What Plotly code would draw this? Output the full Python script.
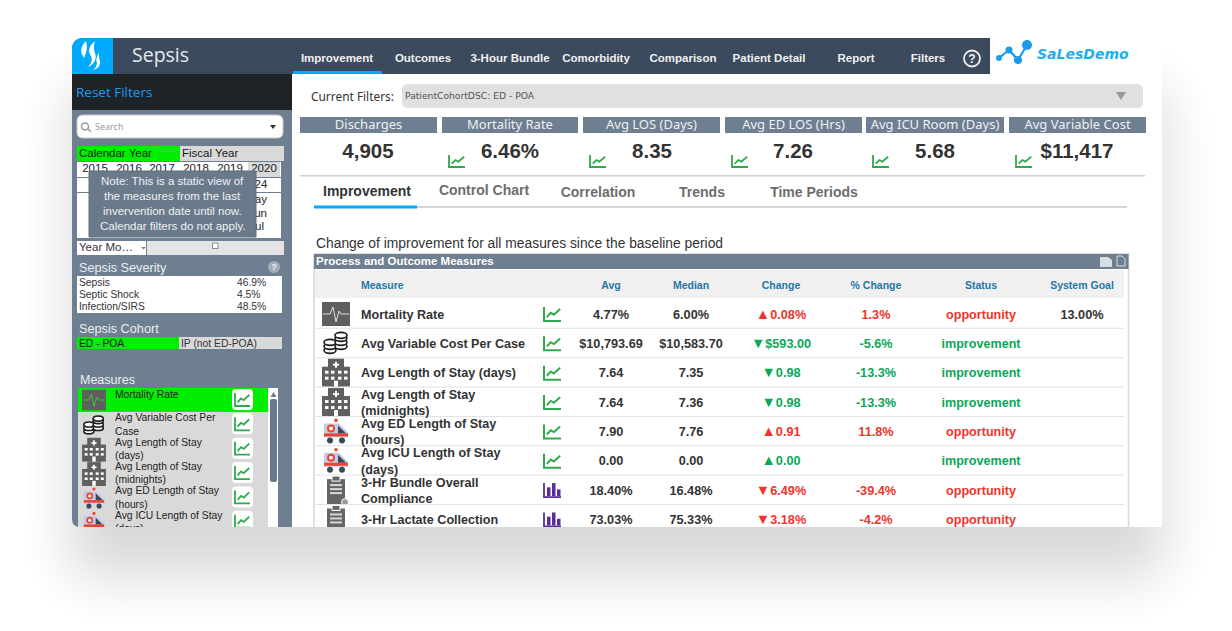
import plotly.graph_objects as go

# chart contents
nav_tabs = ["Improvement", "Outcomes", "3-Hour Bundle", "Comorbidity", "Comparison", "Patient Detail", "Report", "Filters"]
sub_tabs = ["Improvement", "Control Chart", "Correlation", "Trends", "Time Periods"]
kpi_labels = ["Discharges", "Mortality Rate", "Avg LOS (Days)", "Avg ED LOS (Hrs)", "Avg ICU Room (Days)", "Avg Variable Cost"]
kpi_values = ["4,905", "6.46%", "8.35", "7.26", "5.68", "$11,417"]
years = ["2015", "2016", "2017", "2018", "2019", "2020"]
note_lines = ["Note: This is a static view of", "the measures from the last", "invervention date until now.", "Calendar filters do not apply."]
severity_labels = ["Sepsis", "Septic Shock", "Infection/SIRS"]
severity_pct = ["46.9%", "4.5%", "48.5%"]
side_measures = ["Mortality Rate", "Avg Variable Cost Per<br>Case", "Avg Length of Stay<br>(days)", "Avg Length of Stay<br>(midnights)",
                 "Avg ED Length of Stay<br>(hours)", "Avg ICU Length of Stay<br>(days)"]
table_headers = ["Measure", "Avg", "Median", "Change", "% Change", "Status", "System Goal"]
measures = ["Mortality Rate", "Avg Variable Cost Per Case", "Avg Length of Stay (days)", "Avg Length of Stay<br>(midnights)",
            "Avg ED Length of Stay<br>(hours)", "Avg ICU Length of Stay<br>(days)", "3-Hr Bundle Overall<br>Compliance", "3-Hr Lactate Collection"]
avg_vals = ["4.77%", "$10,793.69", "7.64", "7.64", "7.90", "0.00", "18.40%", "73.03%"]
median_vals = ["6.00%", "$10,583.70", "7.35", "7.36", "7.76", "0.00", "16.48%", "75.33%"]
change_vals = ["▲0.08%", "▼$593.00", "▼0.98", "▼0.98", "▲0.91", "▲0.00", "▼6.49%", "▼3.18%"]
pct_vals = ["1.3%", "-5.6%", "-13.3%", "-13.3%", "11.8%", "", "-39.4%", "-4.2%"]
status_vals = ["opportunity", "improvement", "improvement", "improvement", "opportunity", "improvement", "opportunity", "opportunity"]
goal_vals = ["13.00%", "", "", "", "", "", "", ""]
row_icons = ["pulse", "coins", "hospital", "hospital", "ambulance", "ambulance", "clipboard", "clipboard"]
row_charts = ["line", "line", "line", "line", "line", "line", "bar", "bar"]

DARK = "#3b4a5c"
SLATE = "#6e7f91"
BLUE = "#00aaff"
GREEN = "#00ee00"
LGREY = "#d9d9d9"
RED = "#f0342c"
OK = "#0aa858"
TREND = "#2fa84f"
CARD_B = 527
PH = 631

shapes = []
texts = []
notes = []


def rect(x0, y0, x1, y1, fill, line=None, width=1, layer="below"):
    shapes.append(dict(type="rect", x0=x0, y0=y0, x1=x1, y1=y1, fillcolor=fill, layer=layer,
                       line=dict(color=line, width=width) if line else dict(width=0)))


def path(d, fill=None, line=None, width=1):
    shapes.append(dict(type="path", path=d, fillcolor=fill or "rgba(0,0,0,0)", layer="below",
                       line=dict(color=line, width=width) if line else dict(width=0)))


def circle(cx, cy, r, fill=None, line=None, width=1):
    shapes.append(dict(type="circle", x0=cx - r, y0=cy - r, x1=cx + r, y1=cy + r, fillcolor=fill or "rgba(0,0,0,0)", layer="below",
                       line=dict(color=line, width=width) if line else dict(width=0)))


def rrect(x0, y0, x1, y1, r):
    return (f"M{x0+r},{y0} L{x1-r},{y0} Q{x1},{y0} {x1},{y0+r} L{x1},{y1-r} Q{x1},{y1} {x1-r},{y1} "
            f"L{x0+r},{y1} Q{x0},{y1} {x0},{y1-r} L{x0},{y0+r} Q{x0},{y0} {x0+r},{y0} Z")


def put(x, y, text, size=12, color="#333333", family="Liberation Sans", bold=False, anchor="center"):
    texts.append(go.Scatter(x=[x], y=[y + 1.5], mode="text", text=["<b>" + text + "</b>" if bold else text],
                            textposition="middle " + anchor,
                            textfont=dict(size=size, color=color, family=family),
                            showlegend=False, hoverinfo="skip", cliponaxis=True))


def trend(x, y, w, h, color=TREND, width=1.8):
    path(f"M{x},{y} L{x},{y+h} L{x+w},{y+h}", line=color, width=width)
    path(f"M{x+w*.17},{y+h*.72} L{x+w*.4},{y+h*.42} L{x+w*.58},{y+h*.55} L{x+w*.95},{y+h*.15}", line=color, width=width)


def bars_icon(x, y, w, h, color="#5b2d9b"):
    path(f"M{x},{y} L{x},{y+h} L{x+w},{y+h}", line=color, width=1.8)
    for k, top in enumerate([.3, 0, .45]):
        rect(x + 3 + k * 5, y + h * top, x + 6.5 + k * 5, y + h - 1, color)


def icon(kind, cx, cy, s=1.0, pulse_line="#e2e2e2"):
    if kind == "pulse":
        rect(cx - 14*s, cy - 12*s, cx + 14*s, cy + 12*s, "#5f5f5f")
        path(f"M{cx-13*s},{cy} L{cx-6*s},{cy} L{cx-3*s},{cy-7*s} L{cx},{cy+8*s} L{cx+3*s},{cy-3*s} L{cx+5*s},{cy} L{cx+13*s},{cy}",
             line=pulse_line, width=1)
    elif kind == "coins":
        for dx, dy in [(-6, 7), (-6, 3), (-6, -1), (5, 3), (5, -1), (5, -5), (5, -8)]:
            shapes.append(dict(type="circle", x0=cx + (dx - 6)*s, y0=cy + (dy - 3)*s, x1=cx + (dx + 6)*s, y1=cy + (dy + 3)*s,
                               fillcolor="#ffffff", layer="below", line=dict(color="#1c1c1c", width=1.6)))
    elif kind == "hospital":
        rect(cx - 14*s, cy - 6*s, cx + 14*s, cy + 14*s, "#5f5f5f")
        rect(cx - 8*s, cy - 14*s, cx + 8*s, cy + 14*s, "#5f5f5f")
        rect(cx - 1*s, cy - 11*s, cx + 1*s, cy - 5*s, "#ffffff")
        rect(cx - 3*s, cy - 9*s, cx + 3*s, cy - 7*s, "#ffffff")
        for wx in [-11, -5, 2, 8]:
            for wy in [-2, 4]:
                rect(cx + wx*s, cy + wy*s, cx + (wx + 3.5)*s, cy + (wy + 3)*s, "#ffffff")
        rect(cx - 2*s, cy + 8*s, cx + 2*s, cy + 14*s, "#ffffff")
    elif kind == "ambulance":
        path(f"M{cx-12*s},{cy-8*s} L{cx+3*s},{cy-8*s} L{cx+12*s},{cy+1*s} L{cx+12*s},{cy+6*s} L{cx-12*s},{cy+6*s} Z", fill="#c3cbe6")
        path(f"M{cx+2*s},{cy-6*s} L{cx+10*s},{cy+2*s} L{cx+2*s},{cy+2*s} Z", fill="#37495a")
        rect(cx - 12*s, cy + 2*s, cx + 12*s, cy + 5*s, "#f0402f")
        circle(cx - 5*s, cy - 3*s, 4*s, fill="#f0402f")
        circle(cx - 5*s, cy - 3*s, 2*s, fill="#ffffff")
        circle(cx + 0*s, cy - 11*s, 1.8*s, fill="#f0402f")
        circle(cx - 6*s, cy + 9*s, 3*s, fill="#37495a")
        circle(cx + 6*s, cy + 9*s, 3*s, fill="#37495a")
    elif kind == "clipboard":
        rect(cx - 9*s, cy - 11*s, cx + 9*s, cy + 14*s, "#666666")
        rect(cx - 4*s, cy - 14*s, cx + 4*s, cy - 9*s, "#666666", line="#ffffff")
        for ly in [-6, -2, 2]:
            rect(cx - 6*s, cy + ly*s, cx + 6*s, cy + (ly + 2)*s, "#d8d8d8")
        circle(cx + 9*s, cy + 12*s, 3.5*s, fill="#9a9a9a", line="#ffffff")


# card background
path(f"M72,{CARD_B-8} L72,38 L1162,38 L1162,{CARD_B} L80,{CARD_B} Q72,{CARD_B} 72,{CARD_B-8} Z", fill="#ffffff")
path(f"M72,{CARD_B-8} L72,74 L292,74 L292,{CARD_B} L80,{CARD_B} Q72,{CARD_B} 72,{CARD_B-8} Z", fill=SLATE)
path("M84,38 L990,38 L990,74 L72,74 L72,50 Q72,38 84,38 Z", fill=DARK)
path("M72,74 L72,50 Q72,38 84,38 L113,38 L113,74 Z", fill=BLUE)
for d in ["M86,41 C80,47 80,52 84,58 C86,53 88,48 86,41 Z",
          "M95,41 C88,47 88,52 91,56 C93,60 91,64 88,67 C95,64 97,58 95,53 C93,49 94,45 95,41 Z",
          "M99,53 C96,57 96,60 97,63 C97,66 95,68 93,70 C98,69 101,65 100,61 C99,58 99,56 99,53 Z"]:
    path(d, fill="#ffffff")
put(132, 55.5, "Sepsis", 19.5, "#e6eaee", "Open Sans", anchor="right")

for i, tab in enumerate(nav_tabs):
    put([337, 423, 510, 596, 683, 769, 856, 928][i], 58 if i else 57.5, tab, 11.5, "#f0f0f0", bold=True)
rect(293, 71, 382, 74, BLUE)
circle(972, 58.5, 8, line="#f0f0f0", width=1.8)
put(972, 58, "?", 12, "#f0f0f0", bold=True)

# logo
path("M999,58 L1009,50 L1018,60 L1027,45", line="#1a9be8", width=2.2)
for lx, ly, lr in [(999, 58, 3), (1009, 50, 3.5), (1018, 60, 4), (1027, 45, 5)]:
    circle(lx, ly, lr, fill="#1a9be8")
put(1037, 53.5, "<i>SaLesDemo</i>", 14, "#1cb0ee", "DejaVu Sans", bold=True, anchor="right")

# sidebar
rect(72, 74, 292, 110, "#202326")
put(76, 92.5, "Reset Filters", 13.5, "#1a9fee", "Open Sans", anchor="right")
path(rrect(77, 115, 283, 138, 6), fill="#ffffff", line="#c8c8c8")
circle(85, 126.5, 3.5, line="#9a9a9a", width=1.5)
path("M88,129 L91,132", line="#9a9a9a", width=1.5)
put(95, 126, "Search", 9, "#9a9a9a", "Noto Sans", anchor="right")
path("M270,125 L276,125 L273,129 Z", fill="#333333")

rect(77, 146, 180, 161, GREEN)
rect(180, 146, 284, 161, LGREY)
put(79, 152.5, "Calendar Year", 11.5, "#1a1a1a", anchor="right")
put(182, 152.5, "Fiscal Year", 11.5, "#1a1a1a", anchor="right")
rect(77, 162, 281, 177, "#ffffff")
rect(248, 162, 280, 177, LGREY)
for i, yr in enumerate(years):
    put([95, 129, 162, 196, 230, 264][i], 168, yr, 11.5, "#222222")
rect(77, 178, 281, 192, "#ffffff")
rect(77, 193, 281, 238, "#ffffff")
put(261, 183.5, "24", 11.5, "#222222")
for my, mo, ex in zip([199, 213, 226], ["May", "Jun", "Jul"], [267, 267, 264]):
    put(ex, my, mo, 11.5, "#222222", anchor="left")
# the note sits on top of the year and month lists
rect(89, 171, 256, 237, "#6a7a8b", line="#5f6e7e", layer="above")
for i, ln in enumerate(note_lines):
    notes.append(dict(x=172.5, y=180.5 + i * 15, text=ln, showarrow=False, xref="x", yref="y",
                      font=dict(size=11.5, color="#eef0f2", family="Liberation Sans")))
rect(77, 241, 146, 255, "#ffffff")
rect(147, 241, 284, 255, "#e4e4e4")
put(79, 247, "Year Mo…", 11.5, "#333333", anchor="right")
path("M141,247 L146,247 L143.5,249.5 Z", fill="#888888")
rect(212.5, 243, 218, 248.5, "#ffffff", line="#888888")

put(79, 267.5, "Sepsis Severity", 12.7, "#eceef0", anchor="right")
circle(274, 267, 6, fill="#a3adb8")
put(274, 266, "?", 9, "#eceef0", bold=True)
rect(77, 276, 282, 313, "#ffffff")
for i, lab in enumerate(severity_labels):
    put(79, 282 + i * 12, lab, 10.3, "#333333", anchor="right")
    put(237, 282 + i * 12, severity_pct[i], 10.3, "#333333", anchor="right")
put(79, 328.5, "Sepsis Cohort", 12.7, "#eceef0", anchor="right")
rect(77, 337, 179, 349, GREEN)
rect(179, 337, 282, 349, LGREY)
put(79, 342.5, "ED - POA", 10.3, "#1a1a1a", anchor="right")
put(181, 342.5, "IP (not ED-POA)", 10.3, "#333333", anchor="right")

put(80, 379.5, "Measures", 12.5, "#eceef0", anchor="right")
rect(78, 388, 278, CARD_B, LGREY)
rect(78, 388, 268, 412, GREEN)
rect(268, 388, 278, CARD_B, "#ffffff")
path("M270.5,397 L273.5,392 L276.5,397 Z", fill="#6a7a8b")
path(rrect(270, 399, 277, 482, 2), fill="#6a7a8b")
for i, name in enumerate(side_measures):
    cy = 400 + i * 24.35
    put(115, 393.5 if i == 0 else cy - 0.5, name, 10.3, "#222222", anchor="right")
    path(rrect(232, cy - 11, 253, cy + 10, 4), fill="#ffffff")
    trend(235, cy - 7, 15, 13)
    icon(row_icons[i], 94, cy + (1 if i else 0), 0.85, pulse_line="#39c639" if i == 0 else "#e2e2e2")

# main panel
put(311, 96.5, "Current Filters:", 11.9, "#333333", "Noto Sans", anchor="right")
path(rrect(402, 84, 1143, 108, 6), fill="#e0e0e0")
put(405, 95.5, "PatientCohortDSC: ED - POA", 9.2, "#555555", "DejaVu Sans", anchor="right")
path("M1116,92 L1126,92 L1121,100 Z", fill="#9a9a9a")

kpi_edges = [(300, 437), (442, 578), (583, 720), (725, 862), (866, 1004), (1009, 1146)]
kpi_centers = [368, 510, 652, 793, 935, 1077]
for i, lab in enumerate(kpi_labels):
    x0, x1 = kpi_edges[i]
    rect(x0, 117, x1, 133, SLATE)
    put((x0 + x1) / 2, 124.5, lab, 13, "#eef0f2", "Noto Sans")
    put(kpi_centers[i], 151.5, kpi_values[i], 20.5, "#333333", bold=True)
    if i:
        trend(x0 + 7, 155, 16, 12)
rect(300, 175, 1145, 176.5, "#d0d0d0")

rect(314, 206, 1127, 208, "#d4d4d4")
rect(314, 205.5, 417, 208.5, BLUE)
for i, tab in enumerate(sub_tabs):
    put([367, 484, 598, 702, 814][i], [191, 190, 192, 192, 192][i], tab, 14, "#333333" if i == 0 else "#6d6d6d", bold=True)

put(316, 243, "Change of improvement for all measures since the baseline period", 13.85, "#333333", anchor="right")

# table
rect(314, 254, 1128.5, CARD_B + 5, "#ffffff", line="#d8d8d8", width=1.5)
rect(314, 254, 1128.5, 269, SLATE)
put(316, 261, "Process and Outcome Measures", 11.5, "#ffffff", bold=True, anchor="right")
path("M1100,257 L1108,257 L1112,260 L1112,267 L1100,267 Z", fill="#d8dde2")
path("M1117,256 L1122,256 L1125,259 L1125,266 L1117,266 Z", line="#d8dde2")
rect(315, 270, 1124, 298, "#f0f0f0")
col_x = [361, 611, 691, 781, 876, 981, 1082]
for i, h in enumerate(table_headers):
    put(col_x[i], 284.5, h, 10.5, "#1f77a8", bold=True, anchor="right" if i == 0 else "center")

for i, name in enumerate(measures):
    cy = 314 + i * 29.35
    if i:
        rect(315, cy - 15.5, 1124, cy - 14.5, "#e2e2e2")
    icon(row_icons[i], 336, cy, 1.0)
    put(col_x[0], cy, name, 12.6, "#333333", bold=True, anchor="right")
    if row_charts[i] == "line":
        trend(544, cy - 7, 17, 14, width=2)
    else:
        bars_icon(544, cy - 7, 17, 14)
    put(col_x[1], cy, avg_vals[i], 12.7, "#333333", bold=True)
    put(col_x[2], cy, median_vals[i], 12.7, "#333333", bold=True)
    c = OK if status_vals[i] == "improvement" else RED
    glyph, rest = change_vals[i][0], change_vals[i][1:]
    put(col_x[3], cy, f'<span style="font-size:14.5px">{glyph}</span>{rest}', 12.7, c, bold=True)
    put(col_x[4], cy, pct_vals[i], 12.7, c, bold=True)
    put(col_x[5], cy, status_vals[i], 12.6, c, bold=True)
    put(col_x[6], cy, goal_vals[i], 12.7, "#333333", bold=True)

for s in shapes:
    s["xref"] = "x"
    s["yref"] = "y"


# soft shadow behind the card, paper coordinates so the plot clip leaves it alone
def px(x, y):
    return f"{x/1232:.5f},{(CARD_B-y)/CARD_B:.5f}"


shadow = []
n_layers = 40
for k in range(n_layers):
    u = (k + 0.5) / n_layers
    # more layers near the middle of the blur, so the falloff has no visible edge
    t = u + 0.16 * ((2 * u - 1) ** 3 - (2 * u - 1))
    e = 52 * (1 - 2 * t)
    x0, y0, x1, y1 = 72 - e, 88 - e, 1162 + e, 575 + e
    r = 55 + e
    d = (f"M{px(x0+r,y0)} L{px(x1-r,y0)} Q{px(x1,y0)} {px(x1,y0+r)} L{px(x1,y1-r)} Q{px(x1,y1)} {px(x1-r,y1)} "
         f"L{px(x0+r,y1)} Q{px(x0,y1)} {px(x0,y1-r)} L{px(x0,y0+r)} Q{px(x0,y0)} {px(x0+r,y0)} Z")
    shadow.append(dict(type="path", path=d, xref="paper", yref="paper", layer="below",
                       fillcolor="rgba(0,0,0,0.004)", line=dict(width=0)))

fig = go.Figure(texts)
fig.update_layout(
    width=1232, height=PH, margin=dict(l=0, r=0, t=0, b=PH - CARD_B), autosize=False,
    paper_bgcolor="#ffffff", plot_bgcolor="rgba(0,0,0,0)", showlegend=False,
    xaxis=dict(range=[0, 1232], visible=False, fixedrange=True),
    yaxis=dict(range=[CARD_B, 0], visible=False, fixedrange=True),
    shapes=shadow + shapes, annotations=notes,
)
fig.write_html("out.html", post_script="document.body.style.margin='0';", config=dict(displayModeBar=False))
